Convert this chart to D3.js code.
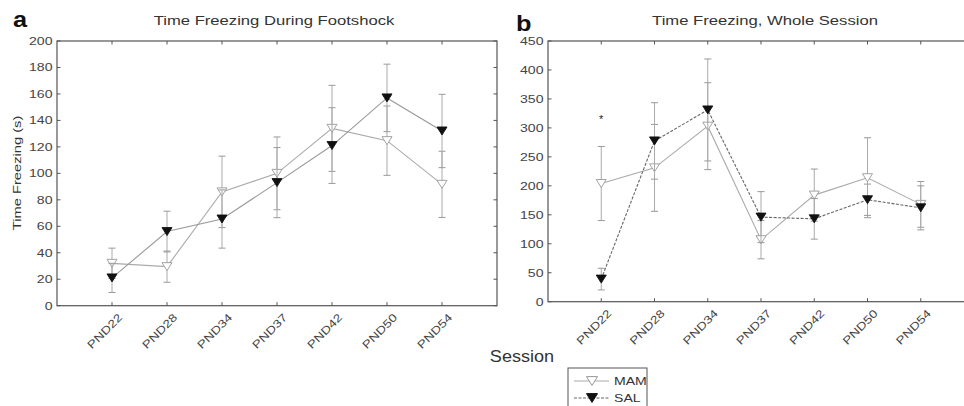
<!DOCTYPE html>
<html>
<head>
<meta charset="utf-8">
<script src="https://cdn.jsdelivr.net/npm/d3@7"></script>
<style>
    body { margin: 0; background: #fff; }
    text { font-family: "Liberation Sans", Arial, sans-serif; }
</style>
</head>
<body>
<script>
// sessions on the x axis
const sessions = ["PND22", "PND28", "PND34", "PND37", "PND42", "PND50", "PND54"];

// panel a: time freezing during footshock (s)
const footshockMAM = [32, 29.5, 86, 100, 134, 124.7, 91.7];
const footshockMAMsem = [11.5, 11.8, 27, 27.5, 32.5, 26.2, 25];
const footshockSAL = [21, 56, 65.5, 93, 121, 157, 132];
const footshockSALsem = [11, 15.4, 22, 26.5, 28.6, 25.5, 27.7];
const footshockTicks = [0, 20, 40, 60, 80, 100, 120, 140, 160, 180, 200];

// panel b: time freezing, whole session (s)
const wholeMAM = [204, 231, 303, 107, 184, 214, 168];
const wholeMAMsem = [64, 75, 75, 33, 45, 69, 39.5];
const wholeSAL = [39, 277.5, 331, 146, 143, 176, 162];
const wholeSALsem = [18.7, 66, 88, 44, 35, 27, 38];
const wholeTicks = [0, 50, 100, 150, 200, 250, 300, 350, 400, 450];

// significance mark (session, height)
const wholeStars = [{session: "PND22", value: 318}];

const svgWidth = 964;
const svgHeight = 406;
const STRETCH = 1.28;   // the original font is much wider than Arial

const panels = [
    {letter: "a", title: "Time Freezing During Footshock",
     mam: footshockMAM, mamSem: footshockMAMsem, sal: footshockSAL, salSem: footshockSALsem,
     ticks: footshockTicks, stars: [], salLine: "#999", salDash: null,
     left: 57, right: 497, top: 41, bottom: 305.7, letterX: 13, letterY: 27, titleX: 274},
    {letter: "b", title: "Time Freezing, Whole Session",
     mam: wholeMAM, mamSem: wholeMAMsem, sal: wholeSAL, salSem: wholeSALsem,
     ticks: wholeTicks, stars: wholeStars, salLine: "#666", salDash: "3,1.5",
     left: 548, right: 974, top: 41, bottom: 301.7, letterX: 516, letterY: 31, titleX: 765}
];

const svg = d3.select("body")
    .append("svg")
    .attr("width", svgWidth)
    .attr("height", svgHeight);

// text is drawn at the origin and moved with a transform, so that it can be widened
function put_text(g, str, x, y, size, opts = {}) {
    const sx = opts.sx || STRETCH;
    const rot = opts.rotate || 0;
    return g.append("text")
        .text(str)
        .attr("transform", `translate(${x},${y}) rotate(${rot}) scale(${sx},1)`)
        .attr("text-anchor", opts.anchor || "start")
        .style("font-size", size + "px")
        .style("font-weight", opts.weight || "normal")
        .style("fill", opts.fill || "#333");
}

function triangle_path(s) {
    // downward triangle centred on its bounding box
    return `M${-s},${-s * 0.8}L${s},${-s * 0.8}L0,${s * 0.8}Z`;
}

panels.forEach(p => draw_panel(p));

function draw_panel(p) {
    const g = svg.append("g");

    const x = d3.scaleLinear()
        .domain([0, sessions.length + 1])
        .range([p.left, p.right]);
    const y = d3.scaleLinear()
        .domain([0, d3.max(p.ticks)])
        .range([p.bottom, p.top]);
    const xs = (d, i) => x(i + 1);

    // box
    g.append("rect")
        .attr("x", p.left)
        .attr("y", p.top)
        .attr("width", p.right - p.left)
        .attr("height", p.bottom - p.top)
        .style("fill", "none")
        .style("stroke", "#555")
        .style("stroke-width", 1.2);

    // inward ticks on all four sides
    const tl = 3.5;
    g.selectAll(null).data(p.ticks).join("line")
        .attr("x1", p.left).attr("x2", p.left + tl)
        .attr("y1", d => y(d)).attr("y2", d => y(d))
        .style("stroke", "#555");
    g.selectAll(null).data(p.ticks).join("line")
        .attr("x1", p.right).attr("x2", p.right - tl)
        .attr("y1", d => y(d)).attr("y2", d => y(d))
        .style("stroke", "#555");
    g.selectAll(null).data(sessions).join("line")
        .attr("x1", xs).attr("x2", xs)
        .attr("y1", p.bottom).attr("y2", p.bottom - tl)
        .style("stroke", "#555");
    g.selectAll(null).data(sessions).join("line")
        .attr("x1", xs).attr("x2", xs)
        .attr("y1", p.top).attr("y2", p.top + tl)
        .style("stroke", "#555");

    // y tick labels
    p.ticks.forEach(t => {
        put_text(g, t, p.left - 4.5, y(t) + 4, 11, {anchor: "end", fill: "#444"});
    });

    // x tick labels, rotated
    sessions.forEach((s, i) => {
        put_text(g, s, x(i + 1) + 11, p.bottom + 12.5, 11, {anchor: "end", rotate: -45, sx: 1.25, fill: "#444"});
    });

    // panel letter and title
    put_text(g, p.letter, p.letterX, p.letterY, 22, {weight: "bold", sx: 1.15, fill: "#111"});
    put_text(g, p.title, p.titleX, 25, 13, {anchor: "middle"});

    // series
    const series = [
        {name: "MAM", mean: p.mam, sem: p.mamSem, line: "#aaa", dash: null, fill: "#fff", stroke: "#999"},
        {name: "SAL", mean: p.sal, sem: p.salSem, line: p.salLine, dash: p.salDash, fill: "#111", stroke: "#111"}
    ];

    series.forEach(s => {
        const pts = s.mean.map((m, i) => ({i: i, m: m, e: s.sem[i]}));
        const capW = 3.5;

        const bars = g.append("g");
        bars.selectAll(null).data(pts).join("line")
            .attr("x1", d => x(d.i + 1)).attr("x2", d => x(d.i + 1))
            .attr("y1", d => y(d.m - d.e)).attr("y2", d => y(d.m + d.e))
            .style("stroke", "#aaa");
        bars.selectAll(null).data(pts).join("line")
            .attr("x1", d => x(d.i + 1) - capW).attr("x2", d => x(d.i + 1) + capW)
            .attr("y1", d => y(d.m + d.e)).attr("y2", d => y(d.m + d.e))
            .style("stroke", "#999");
        bars.selectAll(null).data(pts).join("line")
            .attr("x1", d => x(d.i + 1) - capW).attr("x2", d => x(d.i + 1) + capW)
            .attr("y1", d => y(d.m - d.e)).attr("y2", d => y(d.m - d.e))
            .style("stroke", "#999");

        g.append("path")
            .datum(pts)
            .attr("d", d3.line().x(d => x(d.i + 1)).y(d => y(d.m)))
            .style("fill", "none")
            .style("stroke", s.line)
            .style("stroke-width", 1.1)
            .style("stroke-dasharray", s.dash);

        g.selectAll(null).data(pts).join("path")
            .attr("d", triangle_path(5))
            .attr("transform", d => `translate(${x(d.i + 1)},${y(d.m)})`)
            .style("fill", s.fill)
            .style("stroke", s.stroke)
            .style("stroke-width", 0.9);
    });

    // significance stars
    p.stars.forEach(st => {
        const i = sessions.indexOf(st.session);
        put_text(g, "*", x(i + 1), y(st.value) + 6, 11, {anchor: "middle", sx: 1, fill: "#222"});
    });
}

// shared labels
put_text(svg, "Time Freezing (s)", 21, 173, 11.5, {anchor: "middle", rotate: -90, fill: "#333"});
put_text(svg, "Session", 522, 362, 16, {anchor: "middle", sx: 1.13, fill: "#333"});

// legend
const legend = svg.append("g");
legend.append("rect")
    .attr("x", 568).attr("y", 368)
    .attr("width", 79).attr("height", 50)
    .style("fill", "#fff")
    .style("stroke", "#555");

const legendItems = [
    {name: "MAM", line: "#aaa", dash: null, fill: "#fff", stroke: "#999"},
    {name: "SAL", line: "#666", dash: "3,1.5", fill: "#111", stroke: "#111"}
];
legendItems.forEach((it, k) => {
    const ly = 381 + k * 17;
    legend.append("line")
        .attr("x1", 574).attr("x2", 609)
        .attr("y1", ly).attr("y2", ly)
        .style("stroke", it.line)
        .style("stroke-width", 1.1)
        .style("stroke-dasharray", it.dash);
    legend.append("path")
        .attr("d", triangle_path(5.5))
        .attr("transform", `translate(592,${ly})`)
        .style("fill", it.fill)
        .style("stroke", it.stroke);
    put_text(legend, it.name, 614, ly + 4, 11, {fill: "#333"});
});
</script>
</body>
</html>
